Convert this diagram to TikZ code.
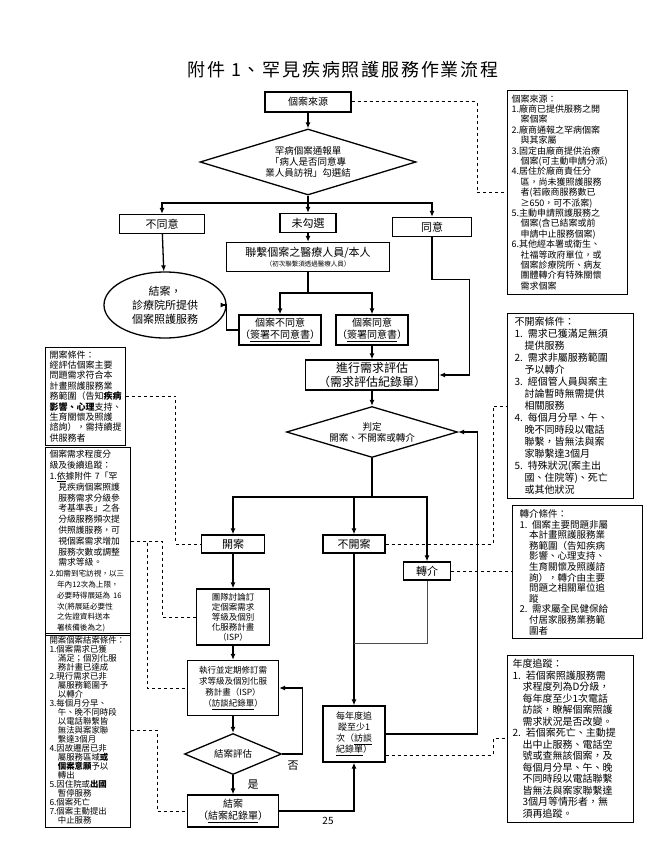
\documentclass[tikz,border=0pt]{standalone}
\usepackage{fontspec}
\setmainfont{Noto Sans CJK TC}
\usepackage{tikz}
\usetikzlibrary{positioning,calc,arrows.meta,shapes.geometric}
\tikzstyle{line} = [draw,line width=1.3pt]
\tikzstyle{dline} = [draw,dashed,line width=1pt]

\begin{document}
\begin{tikzpicture}[x=1pt,y=-1pt,
                box/.style = {draw, line width=1.3pt, align=center, inner sep=1pt,
                  font=\fontsize{10}{12}\selectfont},
                choice/.style = {diamond, draw, line width=1.3pt, align=center,
                  inner sep=0pt, font=\fontsize{9.5}{11}\selectfont},
                note/.style = {draw, line width=1pt, align=left, inner sep=4pt},
                arr/.style = {line, -{Latex[length=6pt,width=5pt]}}]
                \useasboundingbox (0,0) rectangle (656,853);
                \node[font=\fontsize{18}{20}\selectfont\addfontfeature{LetterSpace=10}] (title) at (343,70) {附件 1、罕見疾病照護服務作業流程};
                % upper part
                \node[box, minimum width=86, minimum height=20] (src) at (308,102) {個案來源};
                \node[choice, shape aspect=3.27, minimum width=216, minimum height=66] (dia1) at (308,162) {罕病個案通報單\\「病人是否同意專\\業人員訪視」勾選結};
                \node[box, minimum width=85, minimum height=19, font=\fontsize{11}{12}\selectfont] (disagree) at (162,224) {不同意};
                \node[box, minimum width=56, minimum height=19, font=\fontsize{11}{12}\selectfont] (unmark) at (308,223) {未勾選};
                \node[box, minimum width=79, minimum height=19, font=\fontsize{11}{12}\selectfont] (agree) at (432,227) {同意};
                \node[box, minimum width=163, minimum height=29, font=\fontsize{11}{12}\selectfont] (contact) at (308,257) {聯繫個案之醫療人員/本人\\[-2pt]{\fontsize{6.5}{8}\selectfont（初次聯繫須透過醫療人員）}};
                \node[ellipse, draw, line width=1.3pt, align=center, minimum width=122, minimum height=66, inner sep=0pt,
                  font=\fontsize{11}{14}\selectfont] (endA) at (165,305) {結案，\\診療院所提供\\個案照護服務};
                \node[box, minimum width=75, minimum height=30] (cdis) at (280,330) {個案不同意\\（\underline{簽署不同意書}）};
                \node[box, minimum width=72, minimum height=30] (cagr) at (372,330) {個案同意\\（\underline{簽署同意書}）};
                \node[box, minimum width=133, minimum height=30, font=\fontsize{12}{14}\selectfont] (assess) at (372,375) {進行需求評估\\（需求評估紀錄單）};
                \node[choice, shape aspect=3.35, minimum width=171, minimum height=51] (judge) at (372,432) {判定\\開案、不開案或轉介};
                % lower part
                \node[box, minimum width=63, minimum height=18, font=\fontsize{11}{12}\selectfont] (open) at (233,544) {開案};
                \node[box, minimum width=62, minimum height=18, font=\fontsize{11}{12}\selectfont] (noopen) at (354,544) {不開案};
                \node[box, minimum width=47, minimum height=18, font=\fontsize{11}{12}\selectfont] (refer) at (427,571) {轉介};
                \node[box, minimum width=73, minimum height=56, font=\fontsize{8.5}{10}\selectfont] (isp) at (233,617) {團隊討論訂\\定個案需求\\等級及個別\\化服務計畫\\（ISP）};
                \node[box, minimum width=91, minimum height=55, font=\fontsize{8.5}{11}\selectfont] (exec) at (233,688) {執行並定期修訂需\\求等級及個別化服\\務計畫（ISP）\\（\underline{訪談紀錄單}）};
                \node[choice, shape aspect=2.37, minimum width=97, minimum height=41] (dia2) at (233,754) {結案評估};
                \node[box, minimum width=91, minimum height=32] (close) at (233,811) {結案\\（\underline{結案紀錄單}）};
                \node[box, minimum width=62, minimum height=56, font=\fontsize{9}{11}\selectfont] (track) at (354,734) {每年度追\\蹤至少1\\次（\underline{訪談}\\\underline{紀錄單}）};
                \node[font=\fontsize{11}{12}\selectfont] (no) at (293,766) {否};
                \node[font=\fontsize{11}{12}\selectfont] (yes) at (253,785) {是};
                \node[font=\fontsize{10}{12}\selectfont] (page) at (328,821) {25};
                % notes
                \node[note, anchor=north west, minimum width=120, minimum height=203, text width=112,
                  font=\fontsize{9}{10.4}\selectfont] (note1) at (507,90) {個案來源：\\1.廠商已提供服務之開\\　案個案\\2.廠商通報之罕病個案\\　與其家屬\\3.固定由廠商提供治療\\　個案(可主動申請分派)\\4.居住於廠商責任分\\　區，尚未獲照護服務\\　者(若廠商服務數已\\　≥650，可不派案)\\5.主動申請照護服務之\\　個案(含已結案或前\\　申請中止服務個案)\\6.其他經本署或衛生、\\　社福等政府單位，或\\　個案診療院所、病友\\　團體轉介有特殊關懷\\　需求個案};
                \node[note, anchor=north west, minimum width=126, minimum height=159, text width=112,
                  font=\fontsize{10}{12}\selectfont] (note2) at (507,313) {不開案條件：\\1. 需求已獲滿足無須\\　提供服務\\2. 需求非屬服務範圍\\　予以轉介\\3. 經個管人員與案主\\　討論暫時無需提供\\　相關服務\\4. 每個月分早、午、\\　晚不同時段以電話\\　聯繫，皆無法與案\\　家聯繫達3個月\\5. 特殊狀況(案主出\\　國、住院等)、死亡\\　或其他狀況};
                \node[note, anchor=north west, minimum width=130, minimum height=130, text width=116,
                  font=\fontsize{9.5}{10.6}\selectfont] (note3) at (512,505) {轉介條件：\\1. 個案主要問題非屬\\　本計畫照護服務業\\　務範圍（告知疾病\\　影響、心理支持、\\　生育關懷及照護諮\\　詢），轉介由主要\\　問題之相關單位追\\　蹤\\2. 需求屬全民健保給\\　付居家服務業務範\\　圍者};
                \node[note, anchor=north west, minimum width=126, minimum height=152, text width=116,
                  font=\fontsize{10}{11.5}\selectfont] (note4) at (507,655) {年度追蹤：\\1. 若個案照護服務需\\　求程度列為D分級，\\　每年度至少1次電話\\　訪談，瞭解個案照護\\　需求狀況是否改變。\\2. 若個案死亡、主動提\\　出中止服務、電話空\\　號或查無該個案，及\\　每個月分早、午、晚\\　不同時段以電話聯繫\\　皆無法與案家聯繫達\\　3個月等情形者，無\\　須再追蹤。};
                \node[note, anchor=north west, minimum width=80, minimum height=95, text width=72, inner sep=3pt,
                  font=\fontsize{9}{10.4}\selectfont] (noteA) at (45,347) {開案條件：\\經評估個案主要\\問題需求符合本\\計畫照護服務業\\務範圍（告知\textbf{疾病}\\\textbf{影響、心理}支持、\\生育關懷及照護\\諮詢），需持續提\\供服務者};
                \node[note, anchor=north west, minimum width=85, minimum height=176, text width=77, inner sep=3pt,
                  font=\fontsize{8.8}{10.8}\selectfont] (noteB) at (45,447) {個案需求程度分\\級及後續追蹤：\\1.\underline{依}據附件 7「罕\\　見疾病個案照護\\　服務需求分級參\\　考基準表」之各\\　分級服務頻次提\\　供照護服務，可\\　視個案需求增加\\　服務次數或調整\\　需求等級。\\{\fontsize{7.6}{10.8}\selectfont 2.如需到宅訪視，以三}\\{\fontsize{7.6}{10.8}\selectfont 　年內12次為上限，}\\{\fontsize{7.6}{10.8}\selectfont 　必要時得展延為 16}\\{\fontsize{7.6}{10.8}\selectfont 　次(將展延必要性}\\{\fontsize{7.6}{10.8}\selectfont 　之佐證資料送本}\\{\fontsize{7.6}{10.8}\selectfont 　署核備後為之)}};
                \node[note, anchor=north west, minimum width=85, minimum height=192, text width=77, inner sep=3pt,
                  font=\fontsize{8.4}{9}\selectfont] (noteC) at (45,633) {開案個案結案條件：\\1.個案需求已獲\\　滿足；個別化服\\　務計畫已達成\\2.現行需求已非\\　屬服務範圍予\\　以轉介\\3.每個月分早、\\　午、晚不同時段\\　以電話聯繫皆\\　無法與案家聯\\　繫達3個月\\4.因故遷居已非\\　屬服務區域\textbf{或}\\　\textbf{個案意願}予以\\　轉出\\5.因住院或\textbf{出國}\\　暫停服務\\6.個案死亡\\7.個案主動提出\\　中止服務};
                % main flow
                \coordinate (split1) at (308,203);
                \coordinate (split2) at (308,293);
                \coordinate (split3) at (372,497);
                \coordinate (join) at (354,643);
                \path[arr] (src) -- (dia1);
                \path[line] (dia1.south) -- (split1);
                \path[arr] (split1) -| (disagree.north);
                \path[arr] (split1) -- (unmark.north);
                \path[arr] (split1) -| (agree.north);
                \path[arr] (unmark) -- (contact);
                \path[arr] (disagree) -- (endA);
                \path[line] (contact.south) -- (split2);
                \path[arr] (split2) -| (cdis.north);
                \path[arr] (split2) -| (cagr.north);
                \path[arr] (cdis.west) -- ++(-12,0) |- (endA.east);
                \path[arr] (cagr) -- (assess);
                \path[arr] (agree.south) -- ++(0,42) -| ($(assess.east)+(30,0)$) -- (assess.east);
                \path[arr] (assess) -- (judge);
                \path[line] (judge.south) -- (split3);
                \path[arr] (split3) -| (open.north);
                \path[arr] (split3) -| (noopen.north);
                \path[arr] (split3) -| (refer.north);
                \path[arr] (open) -- (isp);
                \path[arr] (isp) -- (exec);
                \path[arr] (exec) -- (dia2);
                \path[arr] (dia2.east) -- ++(20,0) |- (exec.east);
                \path[arr] (dia2) -- (close);
                \path[arr] (close.east) -| (track.south);
                \path[arr] (noopen) -- (track);
                \path[draw, line width=0.8pt, black!70] (refer.south) |- (join);
                \path[arr] (track.east) -| ($(judge.east)+(19,0)$) -- (judge.east);
                % dashed links to notes
                \path[dline] (src.east) -| ($(note1.west)+(-30,0)$) -- (note1.west);
                \path[dline] (noopen.east) -| ($(note2.west)+(-14,0)$) -- (note2.west);
                \path[dline] (refer.east) -- (refer.east -| note3.west);
                \path[dline] ($(track.east)+(0,21)$) -| ($(note4.west)+(-14,0)$) -- (note4.west);
                \path[dline] (noteA.east) -| ($(open.west)+(-25,0)$) -- (open.west);
                \path[dline] (noteB.east) -| ($(isp.west)+(-33,0)$) -- (isp.west);
                \path[dline] (noteB.east) -| ($(exec.west)+(-39,0)$) -- (exec.west);
                \path[dline] (noteC.east) -| ($(close.west)+(-29,0)$) -- (close.west);
\end{tikzpicture}
\end{document}
